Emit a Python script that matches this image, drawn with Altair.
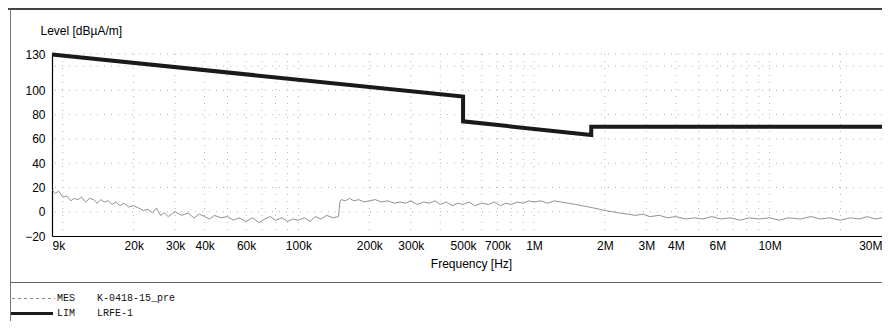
import altair as alt
import pandas as pd

# ---------------- data ----------------
# Limit line LRFE-1 (frequency in Hz, level in dBuA/m)
lim_freq = [9000, 500000, 500000, 1750000, 1750000, 30000000]
lim_level = [129.5, 95.0, 74.5, 63.2, 70.0, 70.0]

# Measured trace MES (frequency in kHz, level in dBuA/m)
mes_freq_khz = [
    9.0, 9.3, 9.6, 10, 10.4, 10.8, 11.2, 11.6, 12, 12.5, 13, 13.5, 14, 14.5, 15,
    15.6, 16.2, 16.8, 17.5, 18.2, 19, 20, 21, 22, 23, 24, 25, 26, 27, 28, 29, 30,
    32, 34, 36, 38, 40, 42, 44, 47, 50, 53, 56, 60, 64, 68, 72, 76, 80, 85, 90,
    95, 100, 106, 112, 118, 125, 132, 140, 148, 150, 152, 158, 165, 172, 180,
    190, 200, 212, 225, 240, 255, 270, 285, 300, 320, 340, 360, 380, 400, 425,
    450, 475, 500, 530, 560, 600, 640, 680, 720, 760, 800, 850, 900, 950, 1000,
    1070, 1140, 1220, 1300, 1400, 1500, 1600, 1700, 1800, 1900, 2000, 2150,
    2300, 2500, 2700, 2900, 3100, 3400, 3700, 4000, 4400, 4800, 5200, 5700,
    6200, 6800, 7500, 8200, 9000, 10000, 11000, 12000, 13500, 15000, 16500,
    18000, 20000, 22000, 24000, 26000, 28000, 30000,
]
mes_level = [
    18, 15, 17, 12, 13, 9, 11, 10, 12, 8, 11, 10, 7, 10, 8,
    9, 6, 8, 5, 7, 4, 5, 3, 1, 2, -1, 3, -3, -1, -4, -2, 0,
    -3, -1, -5, -2, -4, -6, -3, -5, -4, -7, -5, -8, -5, -9, -6, -4, -7, -5, -8,
    -6, -7, -5, -8, -4, -6, -3, -5, -4, 8, 10, 9, 11, 9, 10,
    8, 9, 10, 8, 9, 7, 8, 7, 9, 6, 8, 7, 9, 6, 8,
    5, 7, 6, 8, 5, 7, 6, 8, 5, 7, 6, 8, 7, 9, 8,
    9, 7, 9, 8, 7, 6, 5, 4, 3, 2, 1, 0,
    -1, -2, -3, -2, -4, -3, -5, -4, -6, -5, -6, -4,
    -6, -5, -7, -5, -6, -5, -7, -5, -6, -4, -6,
    -5, -7, -5, -6, -4, -6, -5,
]

# Axis tick labels
x_tick_values = [9e3, 2e4, 3e4, 4e4, 6e4, 1e5, 2e5, 3e5, 5e5, 7e5,
                 1e6, 2e6, 3e6, 4e6, 6e6, 1e7, 3e7]
y_tick_values = [-20, 0, 20, 40, 60, 80, 100, 130]

# Grid lines
grid_freqs = [m * 10 ** e for e in (4, 5, 6) for m in range(1, 10)] + [1e7, 2e7]
grid_levels = [0, 20, 40, 60, 80, 100, 120, 130]

# Legend
legend_codes = ["MES", "LIM"]
legend_names = ["K-0418-15_pre", "LRFE-1"]

# ---------------- tables ----------------
lim_df = pd.DataFrame({"f": lim_freq, "v": lim_level, "i": range(len(lim_freq))})
mes_df = pd.DataFrame({"f": [k * 1000 for k in mes_freq_khz], "v": mes_level,
                       "i": range(len(mes_level))})
gx_df = pd.DataFrame({"f": grid_freqs})
gy_df = pd.DataFrame({"v": grid_levels})

W, H = 830, 182
FONT = "Liberation Sans"
MONO = "Liberation Mono"

xscale = alt.Scale(type="log", domain=[9000, 30000000], nice=False)
yscale = alt.Scale(domain=[-20, 130], nice=False, zero=False)

x_axis = alt.Axis(
    values=x_tick_values,
    labelExpr="datum.value >= 1000000 ? (datum.value/1000000) + 'M' : (datum.value/1000) + 'k'",
    labelFlush=True, labelOverlap=False, ticks=False, grid=False,
    domainColor="#000", domainWidth=1.2, labelFont=FONT, labelFontSize=12,
    labelColor="#000", labelPadding=4,
    title="Frequency [Hz]", titleFont=FONT, titleFontSize=12, titleFontWeight="normal",
    titleColor="#000", titleX=419, titleY=22, titleBaseline="top", titleAlign="center",
)
y_axis = alt.Axis(
    values=y_tick_values, ticks=False, grid=False, labelOverlap=False, labelFlush=False,
    domainColor="#000", domainWidth=1.2, labelFont=FONT, labelFontSize=12,
    labelColor="#000", labelPadding=7,
    title="Level [dBµA/m]", titleFont=FONT, titleFontSize=12, titleFontWeight="normal",
    titleColor="#000", titleAngle=0, titleX=-12, titleY=-24, titleAlign="left",
    titleBaseline="middle",
)

X = alt.X("f:Q", scale=xscale, axis=x_axis)
Y = alt.Y("v:Q", scale=yscale, axis=y_axis)

gridx = alt.Chart(gx_df).mark_rule(color="#b5b5b5", strokeWidth=1, strokeDash=[1, 6]).encode(x=X)
gridy = alt.Chart(gy_df).mark_rule(color="#b5b5b5", strokeWidth=1, strokeDash=[1, 6]).encode(y=Y)

mes = alt.Chart(mes_df).mark_line(color="#858585", strokeWidth=0.9).encode(
    x=X, y=Y, order="i:Q"
)
lim = alt.Chart(lim_df).mark_line(color="#1a1a1a", strokeWidth=4).encode(
    x=X, y=Y, order="i:Q"
)

one = alt.Data(values=[{"a": 1}])

# frame lines
top_line = alt.Chart(one).mark_rule(color="#444", strokeWidth=2).encode(
    x=alt.value(-44), x2=alt.value(W + 10), y=alt.value(-45)
)
left_line = alt.Chart(one).mark_rule(color="#777", strokeWidth=1).encode(
    x=alt.value(-41.5), y=alt.value(-45), y2=alt.value(290)
)
sep_line = alt.Chart(one).mark_rule(color="#666", strokeWidth=1).encode(
    x=alt.value(-42), x2=alt.value(W + 10), y=alt.value(228.5)
)

# legend
leg_mes_line = alt.Chart(one).mark_rule(color="#888", strokeWidth=1, strokeDash=[3, 3]).encode(
    x=alt.value(-40), x2=alt.value(3), y=alt.value(244.5)
)
leg_lim_line = alt.Chart(one).mark_rule(color="#1a1a1a", strokeWidth=3).encode(
    x=alt.value(-41), x2=alt.value(1), y=alt.value(259.5)
)
leg_df = pd.DataFrame({"code": legend_codes, "name": legend_names, "row": [0, 1]})
leg_txt = []
for r, yy in [(0, 244), (1, 259)]:
    leg_txt.append(
        alt.Chart(leg_df).transform_filter(alt.datum.row == r)
        .mark_text(font=MONO, fontSize=10, color="#111", align="left", baseline="middle")
        .encode(x=alt.value(5), y=alt.value(yy), text="code:N")
    )
    leg_txt.append(
        alt.Chart(leg_df).transform_filter(alt.datum.row == r)
        .mark_text(font=MONO, fontSize=10, color="#111", align="left", baseline="middle")
        .encode(x=alt.value(45), y=alt.value(yy), text="name:N")
    )

chart = alt.layer(
    gridx, gridy, mes, lim, top_line, left_line, sep_line,
    leg_mes_line, leg_lim_line, *leg_txt
).properties(
    width=W, height=H,
    padding={"left": 44, "top": 46, "right": 0, "bottom": 85},
    autosize=alt.AutoSizeParams(type="none"),
    background="white",
).configure_view(stroke=None)

chart.save("out.html", embed_options={"renderer": "svg", "actions": False})
